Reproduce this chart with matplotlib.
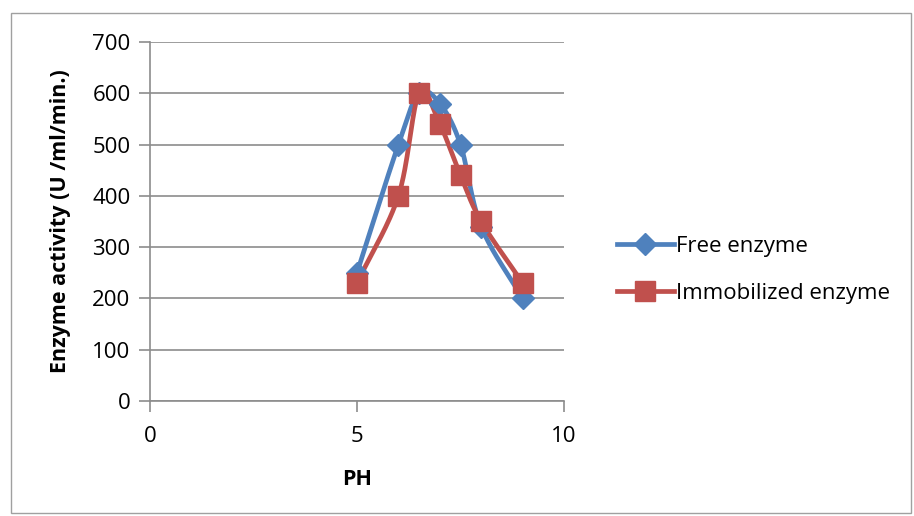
import numpy as np
import matplotlib.pyplot as plt
from matplotlib.patches import Rectangle

ph = [5, 6, 6.5, 7, 7.5, 8, 9]
free_enzyme = [250, 500, 600, 580, 500, 340, 200]
immobilized_enzyme = [230, 400, 600, 540, 440, 350, 230]

BLUE = "#4F81BD"
RED = "#C0504D"
GRID = "#8C8C8C"


def smooth(x, y, n=30):
    # Catmull-Rom curve through the points, like a spreadsheet "smoothed line"
    x = np.asarray(x, float)
    y = np.asarray(y, float)
    px = np.concatenate([[2 * x[0] - x[1]], x, [2 * x[-1] - x[-2]]])
    py = np.concatenate([[2 * y[0] - y[1]], y, [2 * y[-1] - y[-2]]])
    xs, ys = [], []
    t = np.linspace(0, 1, n)
    for i in range(1, len(px) - 2):
        for p, out in ((px, xs), (py, ys)):
            p0, p1, p2, p3 = p[i - 1], p[i], p[i + 1], p[i + 2]
            out.extend(0.5 * ((2 * p1) + (-p0 + p2) * t
                              + (2 * p0 - 5 * p1 + 4 * p2 - p3) * t ** 2
                              + (-p0 + 3 * p1 - 3 * p2 + p3) * t ** 3))
    return xs, ys


plt.rcParams['font.family'] = ['Open Sans', 'DejaVu Sans']

fig = plt.figure(figsize=(9.14, 5.16), dpi=100)
ax = fig.add_axes([150 / 914, 1 - 401 / 516, 414 / 914, 359 / 516])

fig.patches.append(Rectangle((11 / 914, 3 / 516), 900 / 914, 500 / 516,
                             transform=fig.transFigure, fill=False,
                             edgecolor="#A0A0A0", linewidth=1))

for yv, col, mk, ms, lab in ((free_enzyme, BLUE, "D", 11, "Free enzyme"),
                             (immobilized_enzyme, RED, "s", 14, "Immobilized enzyme")):
    sx, sy = smooth(ph, yv)
    ax.plot(sx, sy, color=col, linewidth=3.4, solid_capstyle="round", zorder=3)
    ax.plot(ph, yv, linestyle="none", marker=mk, markersize=ms, color=col, zorder=4)
    ax.plot([], [], color=col, linewidth=3.4, marker=mk, markersize=ms, label=lab)

ax.set_xlim(0, 10)
ax.set_ylim(0, 700)
ax.set_xticks([0, 5, 10])
ax.set_yticks(range(0, 701, 100))
ax.grid(axis="y", color=GRID, linewidth=1.2)
ax.set_axisbelow(True)
for s in ("top", "right"):
    ax.spines[s].set_visible(False)
for s in ("left", "bottom"):
    ax.spines[s].set_color(GRID)
    ax.spines[s].set_linewidth(1.2)
ax.tick_params(axis="y", length=8, width=1.2, color=GRID, labelsize=16, pad=6)
ax.tick_params(axis="x", length=8, width=1.2, color=GRID, labelsize=16, pad=10)

ax.set_xlabel("PH", fontsize=15.5, fontweight="bold")
ax.set_ylabel("Enzyme activity (U /ml/min.)", fontsize=15.5, fontweight="bold", va="center")
ax.xaxis.set_label_coords(0.5, -0.19)
ax.yaxis.set_label_coords(-0.215, 0.5)

ax.legend(loc="center left", bbox_to_anchor=(1.08, 0.365), frameon=False,
          fontsize=16, handlelength=2.55, handletextpad=0.1, labelspacing=1.15)

fig.savefig("out.png", dpi=100)
